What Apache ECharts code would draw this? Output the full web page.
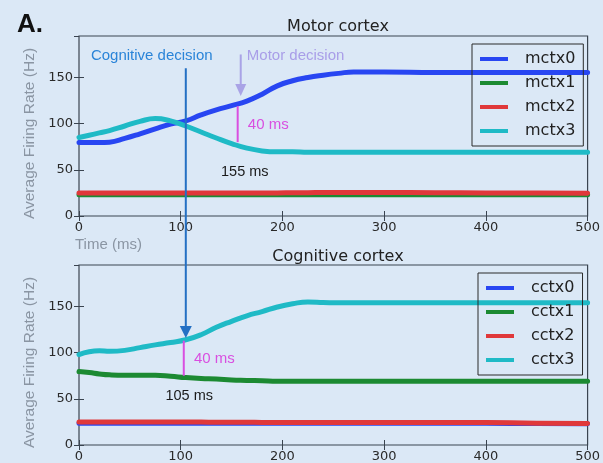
<!DOCTYPE html>
<html>
<head>
<meta charset="utf-8">
<script src="https://cdn.jsdelivr.net/npm/echarts@6/dist/echarts.min.js"></script>
<style>
html,body{margin:0;padding:0;background:#dbe8f6;}
#c{width:603px;height:463px;}
</style>
</head>
<body>
<div id="c"></div>
<script>
// ---- data ----
const timeMs = [0, 10, 20, 30, 45, 60, 75, 90, 105, 120, 135, 150, 165, 180, 195, 210, 225, 240, 255, 270, 300, 350, 400, 450, 500];
// Motor cortex
const mctx0 = [79.5, 79.5, 79.5, 80, 84, 89, 94.5, 99.5, 103, 109.5, 115, 119.5, 124.5, 132, 141, 146.5, 150, 152.5, 154.5, 156, 156, 155.5, 155.5, 155.5, 155.5];
const mctx1 = [23, 23, 23, 23, 23, 23, 23, 23, 23, 23, 23, 23, 23, 23, 23, 23, 23, 23, 23, 23, 23, 23, 23, 23, 23];
const mctx2 = [25, 25, 25, 25, 25, 25, 25, 25, 25, 25, 25, 25, 25, 25, 25, 25.2, 25.3, 25.4, 25.5, 25.5, 25.5, 25.2, 25, 24.8, 24.6];
const mctx3 = [85, 87.5, 90, 92.5, 97.5, 102.5, 105.5, 103, 97.5, 91, 84.5, 78.5, 73.5, 70.5, 69.5, 69.5, 69, 69, 69, 69, 69, 69, 69, 69, 69];
// Cognitive cortex
const cctx0 = [23.5, 23.5, 23.5, 23.5, 23.5, 23.5, 23.5, 23.5, 23.5, 23.5, 23.5, 23.5, 23.5, 23.5, 23.5, 23.5, 23.5, 23.5, 23.5, 23.5, 23.5, 23.5, 23.5, 23.2, 23];
const cctx1 = [79.5, 78.5, 77, 76, 75.5, 75.5, 75.5, 74.5, 73, 72, 71.5, 70.5, 70, 69.5, 69, 69, 69, 69, 69, 69, 69, 69, 69, 69, 69];
const cctx2 = [25, 25, 25, 25, 25, 25, 25, 25, 24.8, 24.8, 24.7, 24.6, 24.6, 24.5, 24.5, 24.5, 24.5, 24.5, 24.5, 24.5, 24.5, 24.5, 24.3, 23.6, 23.2];
const cctx3 = [98, 101, 102, 101.5, 102.5, 105.5, 108.5, 111, 114, 119.5, 127.5, 134, 140, 144.5, 149.5, 153, 155, 154.5, 154, 154, 154, 154, 154, 154, 154];

const motorNames = ['mctx0', 'mctx1', 'mctx2', 'mctx3'];
const cogNames = ['cctx0', 'cctx1', 'cctx2', 'cctx3'];
const xTickValues = [0, 100, 200, 300, 400, 500];
const yTickStep = 50;

// annotation values (data coordinates)
const cognitiveDecisionMs = 105;
const motorDecisionMs = 159;
const motorGapMs = 156;
const cognitiveGapMs = 103;

// ---- chart ----
const colors = ['#2846f2', '#1c8a32', '#e0383a', '#1fbac6'];
const axisColor = '#3a4450';
const FONT = 'DejaVu Sans';
const HFONT = 'Liberation Sans';

const chart = echarts.init(document.getElementById('c'), null, {renderer: 'canvas'});

function mk(arr) { return timeMs.map((t, i) => [t, arr[i]]); }

function xAxisDef(gi, pos, showLabel) {
  return {
    type: 'value', gridIndex: gi, position: pos,
    min: xTickValues[0], max: xTickValues[xTickValues.length - 1],
    interval: xTickValues[1] - xTickValues[0],
    axisLine: {show: false},
    axisTick: {show: true, inside: true, length: 5, lineStyle: {color: axisColor, width: 1}},
    axisLabel: {show: showLabel, color: '#2a2a2a', fontFamily: FONT, fontSize: 13, margin: 5},
    splitLine: {show: false}
  };
}
function yAxisDef(gi, pos, showLabel) {
  return {
    type: 'value', gridIndex: gi, position: pos,
    min: 0, max: 195, interval: yTickStep,
    axisLine: {show: false},
    axisTick: {show: true, inside: true, length: 5, lineStyle: {color: axisColor, width: 1}},
    axisLabel: {show: showLabel, color: '#2a2a2a', fontFamily: FONT, fontSize: 13, margin: 6, showMaxLabel: false},
    splitLine: {show: false}
  };
}

const series = [];
[mctx0, mctx1, mctx2, mctx3].forEach((arr, i) => {
  series.push({
    name: motorNames[i], type: 'line', xAxisIndex: 0, yAxisIndex: 0,
    data: mk(arr), showSymbol: false, smooth: 0.5,
    lineStyle: {color: colors[i], width: 5, cap: 'round', join: 'round'}, itemStyle: {color: colors[i]},
    emphasis: {disabled: true}, animation: false
  });
});
[cctx0, cctx1, cctx2, cctx3].forEach((arr, i) => {
  series.push({
    name: cogNames[i], type: 'line', xAxisIndex: 2, yAxisIndex: 2,
    data: mk(arr), showSymbol: false, smooth: 0.5,
    lineStyle: {color: colors[i], width: 5, cap: 'round', join: 'round'}, itemStyle: {color: colors[i]},
    emphasis: {disabled: true}, animation: false
  });
});

function legendDef(names, left, top) {
  return {
    data: names, orient: 'vertical', left: left, top: top,
    icon: 'rect', itemWidth: 28, itemHeight: 4, itemGap: 8,
    padding: [7, 8, 7, 8],
    borderColor: '#2a2a2a', borderWidth: 1, backgroundColor: 'transparent',
    textStyle: {fontFamily: FONT, fontSize: 16, color: '#222', padding: [0, 0, 0, 12]},
    selectedMode: false
  };
}

chart.setOption({
  backgroundColor: '#dbe8f6',
  animation: false,
  title: [
    {text: 'Motor cortex', left: 333, top: 14, textAlign: 'center',
     textStyle: {fontFamily: FONT, fontSize: 16, fontWeight: 'normal', color: '#222'}},
    {text: 'Cognitive cortex', left: 333, top: 244, textAlign: 'center',
     textStyle: {fontFamily: FONT, fontSize: 16, fontWeight: 'normal', color: '#222'}}
  ],
  grid: [
    {left: 79, top: 36, width: 512, height: 180, show: true, borderColor: axisColor, borderWidth: 1.2, backgroundColor: 'transparent', containLabel: false},
    {left: 79, top: 265, width: 512, height: 180, show: true, borderColor: axisColor, borderWidth: 1.2, backgroundColor: 'transparent', containLabel: false}
  ],
  xAxis: [xAxisDef(0, 'bottom', true), xAxisDef(0, 'top', false), xAxisDef(1, 'bottom', true), xAxisDef(1, 'top', false)],
  yAxis: [yAxisDef(0, 'left', true), yAxisDef(0, 'right', false), yAxisDef(1, 'left', true), yAxisDef(1, 'right', false)],
  legend: [legendDef(motorNames, 472, 44), legendDef(cogNames, 478, 273)],
  series: series
});

// ---- annotations positioned through the chart's own scales ----
const P = (g, x, y) => chart.convertToPixel({gridIndex: g}, [x, y]);
const g = [];
function vline(a, b, color, w) {
  g.push({type: 'line', shape: {x1: a[0], y1: a[1], x2: b[0], y2: b[1]}, style: {stroke: color, lineWidth: w}, z: 100, silent: true});
}
function arrowHead(tip, color, hw, h) {
  g.push({type: 'polygon', shape: {points: [[tip[0] - hw, tip[1] - h], [tip[0] + hw, tip[1] - h], [tip[0], tip[1]]]}, style: {fill: color}, z: 101, silent: true});
}
function txt(p, s, color, size, font, align) {
  g.push({type: 'text', x: p[0], y: p[1], style: {text: s, fill: color, fontSize: size, fontFamily: font, align: align || 'left', verticalAlign: 'middle'}, z: 102, silent: true});
}

// Cognitive decision arrow (spans both panels)
const cdTop = P(0, cognitiveDecisionMs, 160);
const cdTip = P(1, cognitiveDecisionMs, 116);
vline(cdTop, [cdTip[0], cdTip[1] - 8], '#2470c4', 2);
arrowHead(cdTip, '#2470c4', 6, 12);
// Motor decision arrow
const mdTop = P(0, motorDecisionMs, 175);
const mdTip = P(0, motorDecisionMs, 130);
vline(mdTop, [mdTip[0], mdTip[1] - 8], '#a9a3e6', 2);
arrowHead(mdTip, '#a9a3e6', 5.5, 12);
// 40 ms gaps
vline(P(0, motorGapMs, 119), P(0, motorGapMs, 80), '#d94fe0', 2);
vline(P(1, cognitiveGapMs, 113), P(1, cognitiveGapMs, 75), '#d94fe0', 2);

txt(P(0, 11.7, 174), 'Cognitive decision', '#2a84d8', 15, HFONT);
txt(P(0, 165, 174), 'Motor decision', '#a99ee8', 15, HFONT);
txt(P(0, 166, 99), '40 ms', '#d94fe0', 15, HFONT);
txt(P(0, 139.6, 47.8), '155 ms', '#1a1a1a', 14.5, HFONT);
txt(P(1, 113, 93.2), '40 ms', '#d94fe0', 15, HFONT);
txt(P(1, 85, 53.6), '105 ms', '#1a1a1a', 14.5, HFONT);

// static labels
g.push({type: 'text', x: 17, y: 25, style: {text: 'A.', fill: '#111', fontSize: 26, fontWeight: 'bold', fontFamily: HFONT, verticalAlign: 'middle'}, z: 102, silent: true});
g.push({type: 'text', x: 75, y: 245, style: {text: 'Time (ms)', fill: '#8a95a3', fontSize: 15, fontFamily: HFONT, verticalAlign: 'middle'}, z: 102, silent: true});
[133.5, 362.5].forEach(cy => {
  g.push({type: 'text', x: 30, y: cy, rotation: Math.PI / 2,
    style: {text: 'Average Firing Rate (Hz)', fill: '#8a95a3', fontSize: 15.5, fontFamily: HFONT, align: 'center', verticalAlign: 'middle'}, z: 102, silent: true});
});

chart.setOption({graphic: g});
</script>
</body>
</html>
